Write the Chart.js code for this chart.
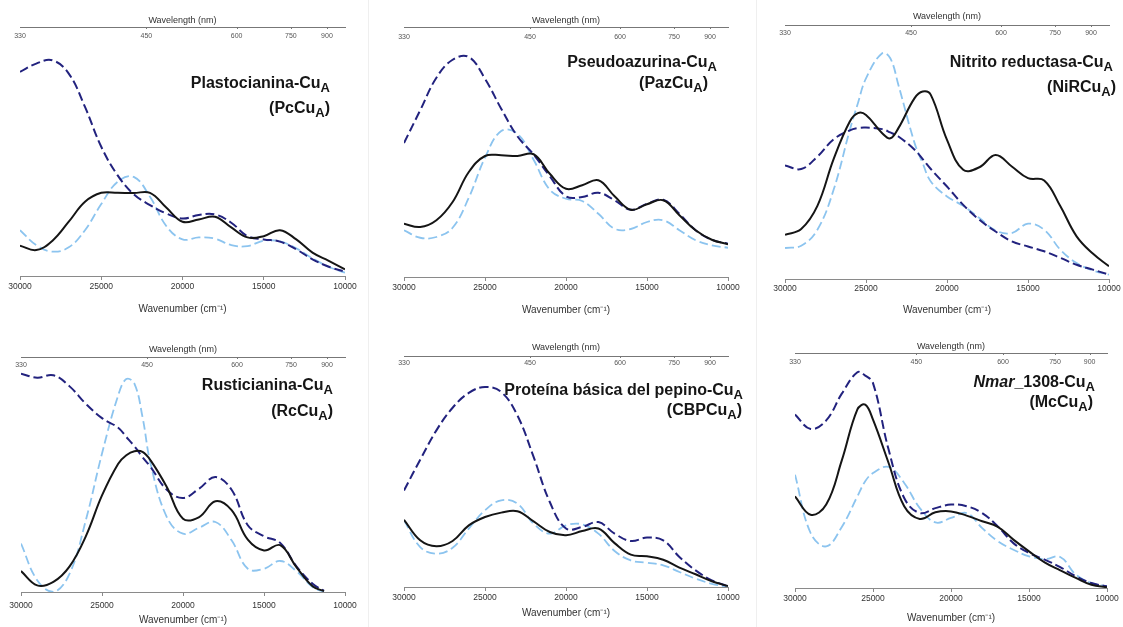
<!DOCTYPE html>
<html>
<head>
<meta charset="utf-8">
<script src="https://cdn.jsdelivr.net/npm/chart.js@4/dist/chart.umd.min.js"></script>
<style>
  html, body { margin: 0; padding: 0; background: #fff; }
  #page { position: relative; width: 1123px; height: 627px; overflow: hidden; }
  .panel { position: absolute; }
  .sep { position: absolute; top: 0; width: 1px; height: 627px; background: #efefef; }
</style>
</head>
<body>
<div id="page">
  <div class="sep" style="left:368px"></div>
  <div class="sep" style="left:756px"></div>
</div>
<script>
// Top axis (wavelength, nm) tick labels
const topNm = [330, 450, 600, 750, 900];
const bottomTicks = [30000, 25000, 20000, 15000, 10000];

// Plastocianina-CuA
const pcWn = [30000, 29000, 28000, 27000, 26000, 25000, 24000, 23000, 22000, 21000, 20000, 19000, 18000, 17000, 16000, 15000, 14000, 13000, 12000, 11000, 10000];
const pcSolid = [12.2, 10.4, 14.2, 21.8, 29.8, 33.4, 33.4, 33.3, 33.4, 27.5, 21.8, 22.7, 23.8, 19.5, 15.5, 16.0, 18.4, 14.7, 9.4, 6.1, 2.7];
const pcNavy = [82.0, 85.3, 86.6, 81.3, 67.9, 51.9, 40.5, 32.8, 28.5, 25.1, 23.1, 24.5, 24.7, 21.4, 16.0, 14.7, 13.8, 10.7, 6.7, 3.7, 1.7];
const pcLight = [18.4, 12.4, 9.8, 11.5, 18.4, 28.9, 37.8, 39.8, 31.8, 20.1, 14.7, 15.5, 15.0, 12.4, 12.0, 14.2, 13.9, 11.1, 7.1, 3.7, 1.3];

// Pseudoazurina-CuA
const pazWn = [30000, 29000, 28000, 27000, 26000, 25000, 24000, 23000, 22000, 21000, 20000, 19000, 18000, 17000, 16000, 15000, 14000, 13000, 12000, 11000, 10000];
const pazSolid = [21.3, 20.0, 22.7, 30.0, 42.0, 48.4, 48.7, 48.4, 49.1, 41.3, 35.3, 36.7, 38.7, 32.3, 26.9, 29.1, 30.7, 24.7, 18.7, 14.9, 13.1];
const pazNavy = [53.6, 66.7, 79.7, 86.9, 88.0, 79.3, 67.3, 56.3, 49.0, 40.3, 32.3, 32.0, 33.7, 30.7, 26.9, 29.3, 30.9, 25.3, 18.7, 14.9, 13.3];
const pazLight = [18.7, 15.7, 16.0, 19.7, 31.7, 47.7, 58.4, 57.3, 46.9, 34.9, 31.3, 30.4, 25.3, 19.3, 19.2, 22.0, 22.7, 18.7, 14.7, 12.7, 11.7];

// Nitrito reductasa-CuA
const nirWn = [30000, 29000, 28000, 27000, 26000, 25500, 25000, 24000, 23500, 23000, 22000, 21500, 21000, 20000, 19000, 18000, 17000, 16000, 15000, 14000, 13000, 12000, 11000, 10000];
const nirSolid = [17.4, 19.7, 28.8, 47.2, 62.0, 65.3, 64.6, 57.4, 55.4, 59.4, 71.2, 73.8, 72.5, 54.8, 43.0, 44.0, 48.8, 44.3, 39.7, 38.8, 28.6, 16.8, 10.0, 5.0];
const nirNavy = [44.7, 43.3, 48.2, 55.0, 58.5, 59.4, 59.6, 59.0, 57.7, 56.1, 50.9, 47.2, 43.3, 36.4, 29.2, 23.3, 18.7, 14.8, 12.8, 10.9, 8.3, 5.6, 3.7, 1.7];
const nirLight = [12.2, 13.1, 19.4, 35.1, 58.7, 69.2, 79.0, 88.9, 86.9, 76.4, 53.5, 45.6, 38.4, 32.5, 28.8, 24.0, 19.1, 18.1, 21.8, 19.4, 11.5, 6.3, 3.4, 1.7];

// Rusticianina-CuA
const rcWn = [30000, 29000, 28000, 27000, 26000, 25000, 24000, 23500, 23000, 22500, 22000, 21000, 20000, 19000, 18000, 17000, 16000, 15000, 14000, 13000, 12000, 11300];
const rcSolid = [8.9, 2.8, 4.3, 10.9, 23.7, 41.1, 54.6, 58.2, 59.9, 59.6, 56.0, 44.7, 31.2, 31.9, 38.6, 34.8, 22.3, 17.7, 19.9, 10.6, 2.4, 0.4];
const rcNavy = [92.9, 91.2, 92.2, 87.5, 80.1, 74.0, 69.9, 66.0, 62.0, 57.4, 53.2, 43.5, 40.0, 44.0, 48.9, 43.5, 28.4, 23.7, 20.9, 10.9, 3.5, 0.5];
const rcLight = [20.6, 5.0, 0.0, 7.8, 30.5, 58.9, 83.7, 90.6, 88.7, 74.5, 54.6, 31.9, 24.8, 27.4, 29.8, 22.0, 9.9, 9.9, 13.2, 8.9, 2.1, 0.0];

// Proteina basica del pepino-CuA
const cbpWn = [30000, 29000, 28000, 27000, 26000, 25000, 24000, 23000, 22000, 21000, 20000, 19000, 18000, 17000, 16000, 15000, 14000, 13000, 12000, 11000, 10000];
const cbpSolid = [29.1, 20.2, 17.6, 19.9, 26.7, 30.3, 32.2, 32.8, 28.4, 23.8, 22.4, 24.2, 25.3, 19.0, 14.0, 13.3, 11.8, 8.4, 5.5, 2.5, 0.4];
const cbpNavy = [41.8, 55.1, 67.8, 77.6, 84.0, 86.6, 84.4, 74.3, 56.3, 36.8, 25.3, 26.0, 28.1, 23.1, 19.9, 21.4, 20.2, 13.0, 7.2, 2.9, 0.3];
const cbpLight = [28.9, 17.3, 14.4, 17.0, 25.3, 33.2, 37.5, 36.1, 27.4, 23.1, 26.7, 27.1, 23.1, 15.6, 11.5, 10.5, 9.4, 6.5, 3.6, 1.4, 0.0];

// Nmar_1308-CuA
const mcWn = [30000, 29000, 28000, 27000, 26000, 25500, 25000, 24000, 23000, 22000, 21000, 20000, 19000, 18000, 17000, 16000, 15000, 14000, 13000, 12000, 11000, 10000];
const mcSolid = [39.0, 31.2, 35.5, 54.3, 76.0, 78.0, 71.6, 53.2, 34.8, 29.4, 32.2, 32.6, 30.8, 28.4, 26.0, 20.6, 15.6, 10.9, 7.5, 4.3, 1.4, 0.3];
const mcNavy = [73.8, 67.7, 71.3, 82.7, 91.8, 90.4, 87.2, 58.9, 38.3, 31.9, 34.0, 35.5, 34.8, 31.9, 26.2, 19.1, 14.9, 12.1, 8.9, 5.0, 2.1, 0.7];
const mcLight = [48.2, 23.4, 17.7, 26.0, 39.0, 45.4, 48.9, 51.5, 44.7, 34.0, 27.9, 29.8, 31.9, 25.5, 19.9, 16.3, 13.5, 12.3, 13.2, 5.7, 2.1, 0.7];

const FONT = '"Liberation Sans", Arial, sans-serif';

// draws the bold panel name with the subscript A
const titlePlugin = {
    id: "panelTitle",
    afterDraw(chart, args, opts) {
        const ctx = chart.ctx;
        ctx.save();
        ctx.fillStyle = "#161616";
        ctx.textBaseline = "alphabetic";
        opts.lines.forEach((line) => {
            const big = "bold 16px " + FONT;
            const bigIt = "italic bold 16px " + FONT;
            const small = "bold 13px " + FONT;
            ctx.font = bigIt;
            const wIt = line.italic ? ctx.measureText(line.italic).width : 0;
            ctx.font = big;
            const wMain = ctx.measureText(line.main).width;
            const wTail = ctx.measureText(line.tail || "").width;
            ctx.font = small;
            const wSub = ctx.measureText("A").width;
            let x = line.right - (wIt + wMain + wSub + wTail);
            if (line.italic) {
                ctx.font = bigIt;
                ctx.fillText(line.italic, x, line.y);
                x += wIt;
            }
            ctx.font = big;
            ctx.fillText(line.main, x, line.y);
            x += wMain;
            ctx.font = small;
            ctx.fillText("A", x, line.y + 4);
            x += wSub;
            if (line.tail) {
                ctx.font = big;
                ctx.fillText(line.tail, x, line.y);
            }
        });
        ctx.restore();
    },
};

// wavelength labels sit under the top axis line, inside the plot
const topLabelPlugin = {
    id: "topLabels",
    afterDraw(chart, args, opts) {
        const s = chart.scales.x2;
        const ctx = chart.ctx;
        ctx.save();
        ctx.font = "7px " + FONT;
        ctx.fillStyle = "#555";
        ctx.textAlign = "center";
        ctx.textBaseline = "middle";
        ctx.strokeStyle = "#777";
        ctx.lineWidth = 1;
        s.ticks.forEach((t, i) => {
            const x = s.getPixelForTick(i);
            ctx.fillText(String(topNm[i]), x, chart.chartArea.top + opts.offset);
            if (i > 0) {
                ctx.beginPath();
                ctx.moveTo(Math.round(x) + 0.5, chart.chartArea.top);
                ctx.lineTo(Math.round(x) + 0.5, chart.chartArea.top + 2);
                ctx.stroke();
            }
        });
        ctx.restore();
    },
};

function toPoints(wn, vals) {
    return wn.map((x, i) => ({ x: x, y: vals[i] }));
}

function makePanel(geo, wn, solid, navy, light, titleLines) {
    const div = document.createElement("div");
    div.className = "panel";
    div.style.left = geo.left + "px";
    div.style.top = geo.top + "px";
    div.style.width = geo.width + "px";
    div.style.height = geo.height + "px";
    const canvas = document.createElement("canvas");
    div.appendChild(canvas);
    document.getElementById("page").appendChild(div);

    const lines = titleLines.map((l) => ({ ...l, right: l.right - geo.left, y: l.y - geo.top }));

    new Chart(canvas, {
        type: "line",
        data: {
            datasets: [
                {
                    data: toPoints(wn, solid),
                    borderColor: "#151515",
                    borderWidth: 2,
                },
                {
                    data: toPoints(wn, navy),
                    borderColor: "#22227e",
                    borderWidth: 2,
                    borderDash: [9, 4],
                },
                {
                    data: toPoints(wn, light),
                    borderColor: "#8cc4ef",
                    borderWidth: 1.8,
                    borderDash: [9, 4],
                },
            ],
        },
        options: {
            responsive: true,
            maintainAspectRatio: false,
            animation: false,
            events: [],
            elements: { point: { radius: 0 }, line: { tension: 0.4 } },
            layout: {
                autoPadding: false,
                padding: {
                    left: geo.plotL - geo.left,
                    right: geo.left + geo.width - geo.plotR,
                    top: 0,
                    bottom: 0,
                },
            },
            plugins: {
                legend: { display: false },
                tooltip: { enabled: false },
                panelTitle: { lines: lines },
                topLabels: { offset: geo.topLabelOff },
            },
            scales: {
                x: {
                    type: "linear",
                    position: "bottom",
                    reverse: true,
                    min: 10000,
                    max: 30000,
                    afterBuildTicks: (s) => {
                        s.ticks = bottomTicks.map((v) => ({ value: v }));
                    },
                    ticks: {
                        autoSkip: false,
                        maxRotation: 0,
                        color: "#333",
                        font: { family: FONT, size: 8.5 },
                        padding: geo.tickPad,
                        callback: (v) => String(v),
                    },
                    grid: {
                        display: true,
                        drawOnChartArea: false,
                        drawTicks: true,
                        tickLength: 4,
                        color: "#8a8a8a",
                    },
                    border: { display: true, color: "#8a8a8a", width: 1 },
                    title: {
                        display: true,
                        text: "Wavenumber (cm⁻¹)",
                        color: "#333",
                        font: { family: FONT, size: 10 },
                        padding: { top: 0, bottom: geo.titlePad },
                    },
                    afterFit: (s) => {
                        s.height = geo.top + geo.height - geo.plotB;
                    },
                },
                x2: {
                    type: "linear",
                    position: "top",
                    reverse: true,
                    min: 10000,
                    max: 30000,
                    afterBuildTicks: (s) => {
                        s.ticks = topNm.map((nm) => ({ value: Math.min(30000, 1e7 / nm) }));
                    },
                    ticks: { display: false, autoSkip: false },
                    grid: { display: false, drawTicks: false },
                    border: { display: true, color: "#777", width: 1 },
                    title: {
                        display: true,
                        text: "Wavelength (nm)",
                        color: "#333",
                        font: { family: FONT, size: 9 },
                        padding: { top: geo.topTitlePad, bottom: 0 },
                    },
                    afterFit: (s) => {
                        s.height = geo.plotT - geo.top;
                    },
                },
                y: { display: false, min: 0, max: 100 },
            },
        },
        plugins: [titlePlugin, topLabelPlugin],
    });
}

makePanel(
    { left: 0, top: 0, width: 368, height: 320, plotL: 20, plotR: 345, plotT: 27, plotB: 276, tickPad: 2, titlePad: 5, topTitlePad: 15.6, topLabelOff: 9 },
    pcWn, pcSolid, pcNavy, pcLight,
    [
        { main: "Plastocianina-Cu", right: 330, y: 88 },
        { main: "(PcCu", tail: ")", right: 330, y: 113 },
    ]
);
makePanel(
    { left: 368, top: 0, width: 388, height: 320, plotL: 404, plotR: 728, plotT: 27, plotB: 277, tickPad: 2, titlePad: 4, topTitlePad: 15.6, topLabelOff: 10 },
    pazWn, pazSolid, pazNavy, pazLight,
    [
        { main: "Pseudoazurina-Cu", right: 717, y: 67 },
        { main: "(PazCu", tail: ")", right: 708, y: 88 },
    ]
);
makePanel(
    { left: 756, top: 0, width: 367, height: 320, plotL: 785, plotR: 1109, plotT: 25, plotB: 279, tickPad: 0.5, titlePad: 4, topTitlePad: 11.6, topLabelOff: 8 },
    nirWn, nirSolid, nirNavy, nirLight,
    [
        { main: "Nitrito reductasa-Cu", right: 1113, y: 67 },
        { main: "(NiRCu", tail: ")", right: 1116, y: 92 },
    ]
);
makePanel(
    { left: 0, top: 320, width: 368, height: 307, plotL: 21, plotR: 345, plotT: 357, plotB: 592, tickPad: 4.5, titlePad: 1, topTitlePad: 24.6, topLabelOff: 8 },
    rcWn, rcSolid, rcNavy, rcLight,
    [
        { main: "Rusticianina-Cu", right: 333, y: 390 },
        { main: "(RcCu", tail: ")", right: 333, y: 416 },
    ]
);
makePanel(
    { left: 368, top: 320, width: 388, height: 307, plotL: 404, plotR: 728, plotT: 356, plotB: 587, tickPad: 2, titlePad: 8, topTitlePad: 22.6, topLabelOff: 7 },
    cbpWn, cbpSolid, cbpNavy, cbpLight,
    [
        { main: "Proteína básica del pepino-Cu", right: 743, y: 395 },
        { main: "(CBPCu", tail: ")", right: 742, y: 415 },
    ]
);
makePanel(
    { left: 756, top: 320, width: 367, height: 307, plotL: 795, plotR: 1107, plotT: 353, plotB: 588, tickPad: 2, titlePad: 3, topTitlePad: 21.6, topLabelOff: 9 },
    mcWn, mcSolid, mcNavy, mcLight,
    [
        { italic: "Nmar", main: "_1308-Cu", right: 1095, y: 387 },
        { main: "(McCu", tail: ")", right: 1093, y: 407 },
    ]
);
</script>
</body>
</html>
